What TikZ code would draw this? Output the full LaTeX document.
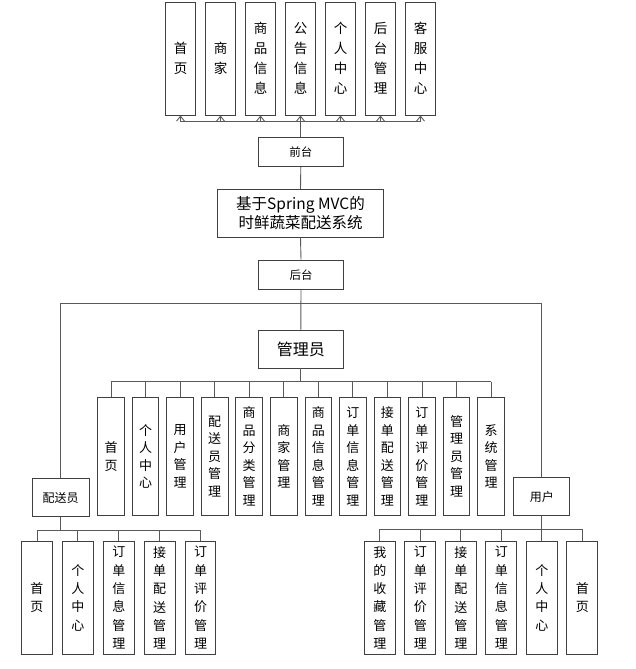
\documentclass[tikz,border=0pt]{standalone}
\usepackage{fontspec}
\setmainfont{Noto Sans CJK SC}
\usetikzlibrary{arrows.meta}
\tikzset{
    box/.style={draw=black!75,line width=0.9pt,inner sep=0pt,align=center},
    topbox/.style={box,minimum width=29.5pt,minimum height=113pt,font=\fontsize{13.5}{20}\selectfont},
    admbox/.style={box,minimum width=26.7pt,minimum height=117.3pt,font=\fontsize{13}{17.5}\selectfont},
    lowbox/.style={box,minimum width=30.5pt,minimum height=113.3pt,font=\fontsize{13}{18.3}\selectfont},
    wire/.style={draw=black!65,line width=0.9pt},
}
\begin{document}
\begin{tikzpicture}[x=1pt,y=-1pt]
    \useasboundingbox (0,0) rectangle (636,669);
    % front end
    \foreach \t [count=\i] in {首\\页,商\\家,商\\品\\信\\息,公\\告\\信\\息,个\\人\\中\\心,后\\台\\管\\理,客\\服\\中\\心}
        \node[topbox] (t\i) at ({180.5+40*(\i-1)},58.5) {\t};
    \node[box,minimum width=85pt,minimum height=29.5pt,font=\fontsize{11.5}{14}\selectfont] (qt) at (300.8,152) {前台};
    \node[box,minimum width=166pt,minimum height=48pt,font=\fontsize{15.5}{19.5}\selectfont] (sys) at (300.5,213.3) {基于Spring MVC的\\时鲜蔬菜配送系统};
    \node[box,minimum width=85pt,minimum height=29.5pt,font=\fontsize{11.5}{14}\selectfont] (ht) at (301,274.7) {后台};
    \coordinate (qbus) at (300.8,121.7);
    \draw[wire] (qt.north) -- (qbus);
    \draw[wire] (t1 |- qbus) -- (t7 |- qbus);
    \foreach \i in {1,...,7}
        \draw[wire,-{Straight Barb[length=5pt,width=8pt]}] (t\i |- qbus) -- (t\i.south);
    \draw[wire] (qt.south) -- (sys.north);
    \draw[wire] (sys.south) -- (ht.north);
    % back end
    \node[box,minimum width=85pt,minimum height=38pt,font=\fontsize{16}{19}\selectfont] (gly) at (300.8,349) {管理员};
    \node[box,minimum width=57pt,minimum height=38pt,font=\fontsize{12}{14}\selectfont] (psy) at (60.7,497.7) {配送员};
    \node[box,minimum width=56pt,minimum height=38pt,font=\fontsize{12}{14}\selectfont] (yh) at (541.8,496.7) {用户};
    \coordinate (hbus) at (301,303.3);
    \draw[wire] (ht.south) -- (gly.north);
    \draw[wire] (psy.north) |- (hbus) -| (yh.north);
    % admin
    \foreach \t [count=\i] in {首\\页,个\\人\\中\\心,用\\户\\管\\理,配\\送\\员\\管\\理,商\\品\\分\\类\\管\\理,商\\家\\管\\理,商\\品\\信\\息\\管\\理,订\\单\\信\\息\\管\\理,接\\单\\配\\送\\管\\理,订\\单\\评\\价\\管\\理,管\\理\\员\\管\\理,系\\统\\管\\理}
        \node[admbox] (m\i) at ({111+34.55*(\i-1)},456.3) {\t};
    \coordinate (gbus) at (300.8,381.7);
    \draw[wire] (gly.south) -- (gbus);
    \draw[wire] (m1 |- gbus) -- (m12 |- gbus);
    \foreach \i in {1,...,12}
        \draw[wire] (m\i |- gbus) -- (m\i.north);
    % delivery
    \foreach \t [count=\i] in {首\\页,个\\人\\中\\心,订\\单\\信\\息\\管\\理,接\\单\\配\\送\\管\\理,订\\单\\评\\价\\管\\理}
        \node[lowbox] (p\i) at ({37+40.9*(\i-1)},597.7) {\t};
    \coordinate (pbus) at (60.7,530.3);
    \draw[wire] (psy.south) -- (pbus);
    \draw[wire] (p1 |- pbus) -- (p5 |- pbus);
    \foreach \i in {1,...,5}
        \draw[wire] (p\i |- pbus) -- (p\i.north);
    % user
    \foreach \t [count=\i] in {我\\的\\收\\藏\\管\\理,订\\单\\评\\价\\管\\理,接\\单\\配\\送\\管\\理,订\\单\\信\\息\\管\\理,个\\人\\中\\心,首\\页}
        \node[lowbox,minimum width=31pt] (u\i) at ({379.8+40.5*(\i-1)},597.7) {\t};
    \coordinate (ubus) at (541.8,529.3);
    \draw[wire] (yh.south) -- (ubus);
    \draw[wire] (u1 |- ubus) -- (u6 |- ubus);
    \foreach \i in {1,...,6}
        \draw[wire] (u\i |- ubus) -- (u\i.north);
\end{tikzpicture}
\end{document}
